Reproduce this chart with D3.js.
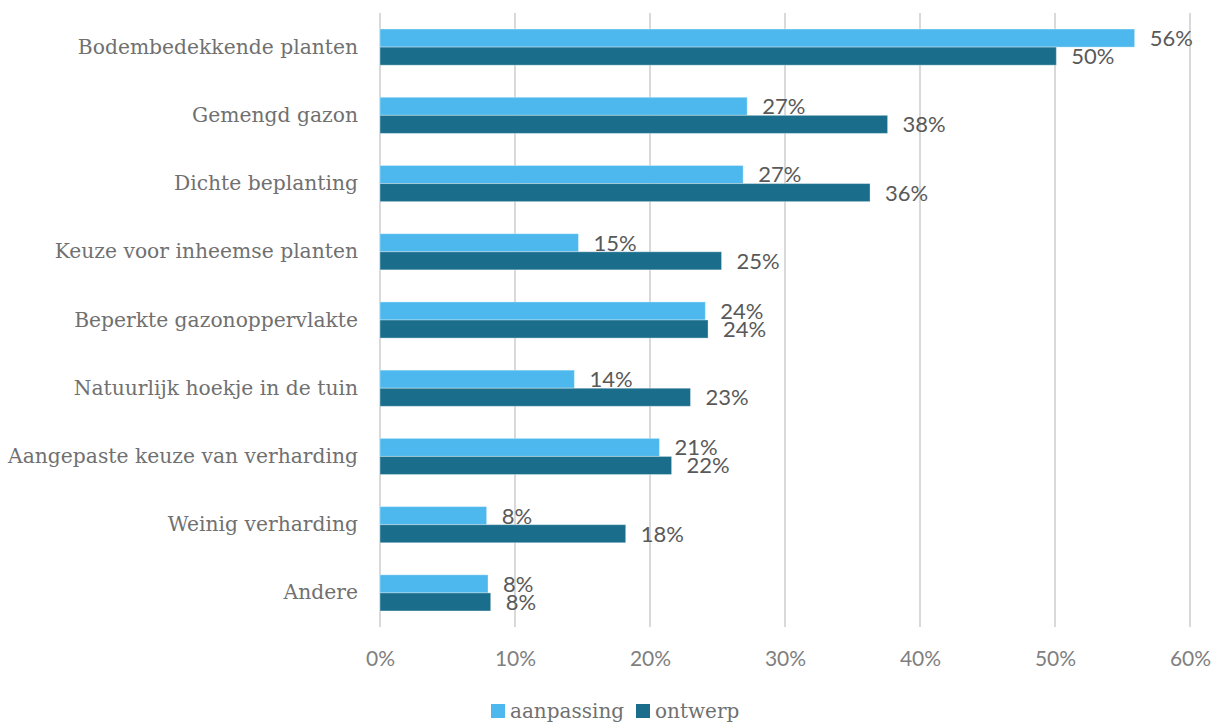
<!DOCTYPE html>
<html>
<head>
<meta charset="utf-8">
<script src="https://cdn.jsdelivr.net/npm/d3@7"></script>
<style>
  html, body { margin: 0; padding: 0; background: #fff; }
  svg { display: block; }
</style>
</head>
<body>
<svg id="chart" width="1217" height="726"></svg>
<script>
// Garden measures: share of respondents per measure
const categories = [
  "Bodembedekkende planten",
  "Gemengd gazon",
  "Dichte beplanting",
  "Keuze voor inheemse planten",
  "Beperkte gazonoppervlakte",
  "Natuurlijk hoekje in de tuin",
  "Aangepaste keuze van verharding",
  "Weinig verharding",
  "Andere"
];
const aanpassing = [55.9, 27.2, 26.9, 14.7, 24.1, 14.4, 20.7, 7.9, 8.0];
const ontwerp    = [50.1, 37.6, 36.3, 25.3, 24.3, 23.0, 21.6, 18.2, 8.2];
const seriesNames = ["aanpassing", "ontwerp"];
const xTicks = [0, 10, 20, 30, 40, 50, 60];

const colors = { aanpassing: "#4db8ed", ontwerp: "#1a6e8b" };
const serif = "'DejaVu Serif', serif";
const sans = "Lato, 'Open Sans', sans-serif";

const svg = d3.select("#chart");
const margin = { top: 13, right: 27, bottom: 99, left: 380 };
const W = 1217, H = 726;
const innerW = W - margin.left - margin.right;
const innerH = H - margin.top - margin.bottom;

const x = d3.scaleLinear().domain([0, 60]).range([0, innerW]);
const y = d3.scaleBand().domain(categories).range([0, innerH]).paddingInner(0.47).paddingOuter(0.235);
const ySub = d3.scaleBand().domain(seriesNames).range([0, y.bandwidth()]);

const g = svg.append("g").attr("transform", `translate(${margin.left},${margin.top})`);

// vertical gridlines
g.append("g").selectAll("line").data(xTicks).join("line")
  .attr("x1", d => x(d)).attr("x2", d => x(d))
  .attr("y1", 0).attr("y2", innerH)
  .attr("stroke", "#d9d9d9").attr("stroke-width", 2);

// x axis tick labels
const xAxis = d3.axisBottom(x).tickValues(xTicks).tickFormat(d => d + "%").tickSize(0).tickPadding(24);
const xa = g.append("g").attr("transform", `translate(0,${innerH})`).call(xAxis);
xa.select(".domain").remove();
xa.selectAll("text").attr("font-family", sans).attr("font-size", 21).attr("fill", "#7f7f7f");

// category labels
const yAxis = d3.axisLeft(y).tickSize(0).tickPadding(22);
const ya = g.append("g").call(yAxis);
ya.select(".domain").remove();
ya.selectAll("text").attr("font-family", serif).attr("font-size", 20.3).attr("fill", "#707070")
  .attr("dy", "0.32em");

// bars and value labels
const rows = categories.map((c, i) => ({ c, aanpassing: aanpassing[i], ontwerp: ontwerp[i] }));
seriesNames.forEach(s => {
  g.append("g").selectAll("rect").data(rows).join("rect")
    .attr("x", 0)
    .attr("y", d => y(d.c) + ySub(s))
    .attr("width", d => x(d[s]))
    .attr("height", ySub.bandwidth())
    .attr("fill", colors[s])
    .attr("stroke", "rgba(255,255,255,0.35)").attr("stroke-width", 1);

  g.append("g").selectAll("text").data(rows).join("text")
    .attr("x", d => x(d[s]) + 15)
    .attr("y", d => y(d.c) + ySub(s) + ySub.bandwidth() / 2)
    .attr("dy", "0.36em")
    .attr("font-family", sans).attr("font-size", 22).attr("fill", "#595959")
    .text(d => Math.round(d[s]) + "%");
});

// legend
const legend = svg.append("g").attr("transform", "translate(491,711)");
const items = [{ k: "aanpassing", x: 0 }, { k: "ontwerp", x: 145 }];
items.forEach(it => {
  const li = legend.append("g").attr("transform", `translate(${it.x},0)`);
  li.append("rect").attr("x", 0).attr("y", -7).attr("width", 14).attr("height", 14).attr("fill", colors[it.k]);
  li.append("text").attr("x", 19).attr("y", 0).attr("dy", "0.35em")
    .attr("font-family", serif).attr("font-size", 20).attr("fill", "#707070").text(it.k);
});
</script>
</body>
</html>
